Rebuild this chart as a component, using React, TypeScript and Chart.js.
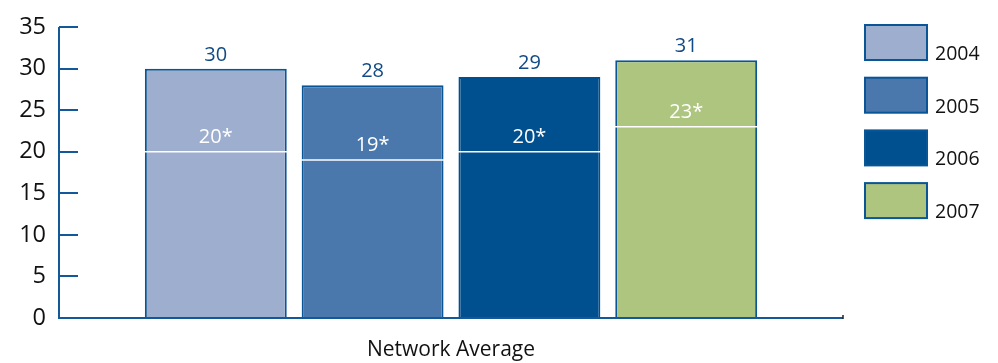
import React, { useEffect, useRef } from "react";
import { Chart, registerables } from "chart.js";

Chart.register(...registerables);

const categories = ["Network Average"];
const years = ["2004", "2005", "2006", "2007"];
const totals = [30, 28, 29, 31];
const starred = [20, 19, 20, 23];
const fills = ["#9daecf", "#4a78ad", "#00508f", "#adc57f"];
const yTicks = [0, 5, 10, 15, 20, 25, 30, 35];

const FONT = "'Open Sans', 'Noto Sans', sans-serif";
const AXIS_BLUE = "#13599a";
const LABEL_BLUE = "#114a85";

// Axis line with inward tick marks, starred reference lines, value labels, legend
const decorations = {
  id: "decorations",
  afterDatasetsDraw(chart: any) {
    const { ctx, chartArea } = chart;
    const y = chart.scales.y;
    ctx.save();

    // inward tick marks on the value axis
    ctx.strokeStyle = AXIS_BLUE;
    ctx.lineWidth = 2;
    yTicks.forEach((v) => {
      const py = Math.round(y.getPixelForValue(v));
      ctx.beginPath();
      ctx.moveTo(chartArea.left, py);
      ctx.lineTo(chartArea.left + 19, py);
      ctx.stroke();
    });
    // axis lines
    ctx.beginPath();
    ctx.moveTo(chartArea.left, y.getPixelForValue(35));
    ctx.lineTo(chartArea.left, chartArea.bottom);
    ctx.lineTo(chartArea.right, chartArea.bottom);
    ctx.stroke();
    ctx.lineWidth = 1.5;
    ctx.strokeStyle = "#222";
    ctx.beginPath();
    ctx.moveTo(chartArea.right, chartArea.bottom - 3);
    ctx.lineTo(chartArea.right, chartArea.bottom + 1);
    ctx.stroke();

    // bars: starred reference lines and labels
    chart.data.datasets.forEach((ds: any, i: number) => {
      const meta = chart.getDatasetMeta(i);
      const bar = meta.data[0];
      const half = bar.width / 2;
      const topY = y.getPixelForValue(totals[i]);
      const refY = y.getPixelForValue(starred[i]);

      ctx.strokeStyle = "#ffffff";
      ctx.lineWidth = 1.5;
      ctx.beginPath();
      ctx.moveTo(bar.x - half - 1, refY);
      ctx.lineTo(bar.x + half + 1, refY);
      ctx.stroke();

      ctx.textAlign = "center";
      ctx.textBaseline = "alphabetic";
      ctx.font = `20px ${FONT}`;
      ctx.fillStyle = "#ffffff";
      ctx.fillText(`${starred[i]}*`, bar.x, refY - 9);

      ctx.fillStyle = LABEL_BLUE;
      ctx.fillText(String(totals[i]), bar.x, topY - 8);
    });

    // legend
    const lx = 865;
    const boxW = 62;
    const boxH = 35;
    chart.data.datasets.forEach((ds: any, i: number) => {
      const top = 25 + i * 52.7;
      ctx.fillStyle = ds.backgroundColor;
      ctx.fillRect(lx, top, boxW, boxH);
      ctx.strokeStyle = "#0a5596";
      ctx.lineWidth = 2;
      ctx.strokeRect(lx, top, boxW, boxH);
      ctx.fillStyle = "#111";
      ctx.textAlign = "left";
      ctx.font = `19.5px ${FONT}`;
      ctx.fillText(years[i], 935, top + 35);
    });
    ctx.restore();
  },
};

export default function App() {
  const canvasRef = useRef<HTMLCanvasElement | null>(null);

  useEffect(() => {
    if (!canvasRef.current) return;
    const chart = new Chart(canvasRef.current, {
      type: "bar",
      data: {
        labels: categories,
        datasets: years.map((yr, i) => ({
          label: yr,
          data: [totals[i]],
          backgroundColor: fills[i],
          borderColor: i === 2 ? "#00508f" : "#0a5596",
          borderWidth: 2,
          borderSkipped: "bottom",
          categoryPercentage: 0.8,
          barPercentage: 0.905,
        })),
      },
      options: {
        animation: false,
        responsive: false,
        maintainAspectRatio: false,
        layout: { padding: { top: 25, right: 155, left: 0, bottom: 0 } },
        plugins: {
          legend: { display: false },
          tooltip: { enabled: false },
        },
        scales: {
          x: {
            offset: true,
            grid: { display: false, drawTicks: false },
            border: { display: false },
            ticks: {
              color: "#111",
              font: { family: FONT, size: 21 },
              padding: 19,
            },
            afterFit: (s: any) => {
              s.height = 45;
            },
          },
          y: {
            min: 0,
            max: 35,
            afterBuildTicks: (s: any) => {
              s.ticks = yTicks.map((v) => ({ value: v }));
            },
            grid: { display: false, drawTicks: false },
            border: { display: false },
            ticks: {
              color: "#111",
              font: { family: FONT, size: 23.5 },
              padding: 13,
            },
            afterFit: (s: any) => {
              s.width = 59;
            },
          },
        },
      },
      plugins: [decorations],
    });
    return () => chart.destroy();
  }, []);

  return (
    <div style={{ position: "absolute", left: 0, top: 0, width: 998, height: 363 }}>
      <canvas ref={canvasRef} width={998} height={363} style={{ display: "block" }} />
    </div>
  );
}
